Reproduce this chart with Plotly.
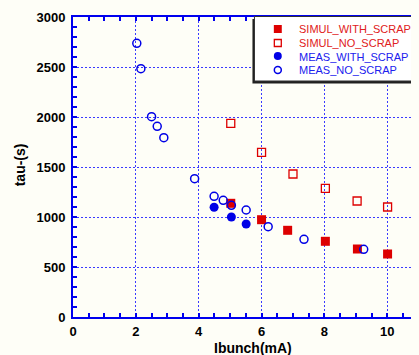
import plotly.graph_objects as go

# ---- data ----
sim_with_x = [5.02, 6.0, 6.83, 8.03, 9.05, 10.01]
sim_with_y = [1137, 973, 867, 757, 680, 630]
sim_no_x = [5.02, 6.0, 7.0, 8.03, 9.04, 10.01]
sim_no_y = [1937, 1647, 1430, 1287, 1160, 1100]
meas_with_x = [4.49, 5.04, 5.51]
meas_with_y = [1097, 1000, 930]
meas_no_x = [2.03, 2.16, 2.50, 2.68, 2.89, 3.87, 4.49, 4.78, 5.04, 5.51, 6.21, 7.35, 9.25]
meas_no_y = [2737, 2483, 2003, 1907, 1793, 1383, 1207, 1167, 1117, 1070, 903, 777, 677]
series_names = ["SIMUL_WITH_SCRAP", "SIMUL_NO_SCRAP", "MEAS_WITH_SCRAP", "MEAS_NO_SCRAP"]
x_title = "Ibunch(mA)"
y_title = "tau-(s)"

RED = "#dd0000"
BLUE = "#0000e6"
AXBLUE = "#0000ee"
GRID = "#3a3aff"
BG = "#fefef7"
FONT = "Liberation Sans, Arial, sans-serif"

OFF = 8                      # page body margin of the html page
W, H = 419 - OFF, 355 - OFF
L, R, T, B = 73 - OFF, 419 - OFF, 17 - OFF, 317 - OFF   # plot area in figure pixels


def px(x):
    return (x - OFF - L) / (R - L)


def py(y):
    return (B - (y - OFF)) / (B - T)


fig = go.Figure()
fig.add_trace(go.Scatter(x=sim_with_x, y=sim_with_y, mode="markers", name=series_names[0],
                         marker=dict(symbol="square", size=9, color=RED)))
fig.add_trace(go.Scatter(x=sim_no_x, y=sim_no_y, mode="markers", name=series_names[1],
                         marker=dict(symbol="square-open", size=8, color=RED, line=dict(width=1.3, color=RED))))
fig.add_trace(go.Scatter(x=meas_with_x, y=meas_with_y, mode="markers", name=series_names[2],
                         marker=dict(symbol="circle", size=9, color=BLUE)))
fig.add_trace(go.Scatter(x=meas_no_x, y=meas_no_y, mode="markers", name=series_names[3],
                         marker=dict(symbol="circle-open", size=8, color=BLUE, line=dict(width=1.5, color=BLUE))))

axis_common = dict(
    showline=True, linecolor=AXBLUE, linewidth=2, mirror="ticks",
    ticks="inside", ticklen=4, tickcolor=AXBLUE, tickwidth=1.5,
    showgrid=True, gridcolor=GRID, griddash="2px,2px", gridwidth=1,
    zeroline=False,
    tickfont=dict(family=FONT, size=13, color="black", weight="bold"),
)

fig.update_xaxes(range=[0, 10.946], dtick=2, tick0=0, ticklabelstandoff=1,
                 minor=dict(dtick=0.5, ticks="inside", ticklen=4, tickcolor=AXBLUE, tickwidth=1.5, showgrid=False),
                 **axis_common)
fig.update_yaxes(range=[0, 3000], dtick=500, tick0=0, ticklabelstandoff=3,
                 minor=dict(dtick=100, ticks="inside", ticklen=4, tickcolor=AXBLUE, tickwidth=1.5, showgrid=False),
                 **axis_common)

shapes = [
    # legend shadow and box
    dict(type="rect", xref="paper", yref="paper", x0=px(253.5), x1=px(440), y0=py(19), y1=py(83.5),
         fillcolor="#202020", line=dict(width=0), layer="above"),
    dict(type="rect", xref="paper", yref="paper", x0=px(255.5), x1=px(440), y0=py(16.5), y1=py(81),
         fillcolor="white", line=dict(width=1, color="#303030"), layer="above"),
    # legend keys
    dict(type="rect", xref="paper", yref="paper", x0=px(275), x1=px(283), y0=py(25), y1=py(33),
         fillcolor=RED, line=dict(width=0), layer="above"),
    dict(type="rect", xref="paper", yref="paper", x0=px(275.5), x1=px(282.5), y0=py(39.5), y1=py(46.5),
         fillcolor="white", line=dict(width=1.3, color=RED), layer="above"),
    dict(type="circle", xref="paper", yref="paper", x0=px(275), x1=px(283), y0=py(52), y1=py(60),
         fillcolor=BLUE, line=dict(width=0), layer="above"),
    dict(type="circle", xref="paper", yref="paper", x0=px(275.5), x1=px(282.5), y0=py(66.5), y1=py(73.5),
         fillcolor="white", line=dict(width=1.5, color=BLUE), layer="above"),
]

legend_rows = [29, 43, 56.5, 70]
legend_colors = ["#e02020", "#e02020", "#2020ee", "#2020ee"]
annotations = []
for name, yy, col in zip(series_names, legend_rows, legend_colors):
    annotations.append(dict(text=name, xref="paper", yref="paper", x=px(298), y=py(yy),
                            xanchor="left", yanchor="middle", showarrow=False,
                            font=dict(family=FONT, size=11, color=col)))
annotations.append(dict(text=x_title, xref="paper", yref="paper", x=px(254), y=py(347.5),
                        xanchor="center", yanchor="middle", showarrow=False,
                        font=dict(family=FONT, size=14, color="black", weight="bold")))
annotations.append(dict(text=y_title, xref="paper", yref="paper", x=px(20), y=py(165),
                        xanchor="center", yanchor="middle", showarrow=False, textangle=-90,
                        font=dict(family=FONT, size=14, color="black", weight="bold")))

fig.update_layout(
    width=W, height=H,
    margin=dict(l=L, r=W - R, t=T, b=H - B, pad=0),
    paper_bgcolor=BG, plot_bgcolor=BG,
    showlegend=False,
    shapes=shapes, annotations=annotations,
)

fig.write_html("out.html", post_script="document.body.style.background='%s';" % BG)
